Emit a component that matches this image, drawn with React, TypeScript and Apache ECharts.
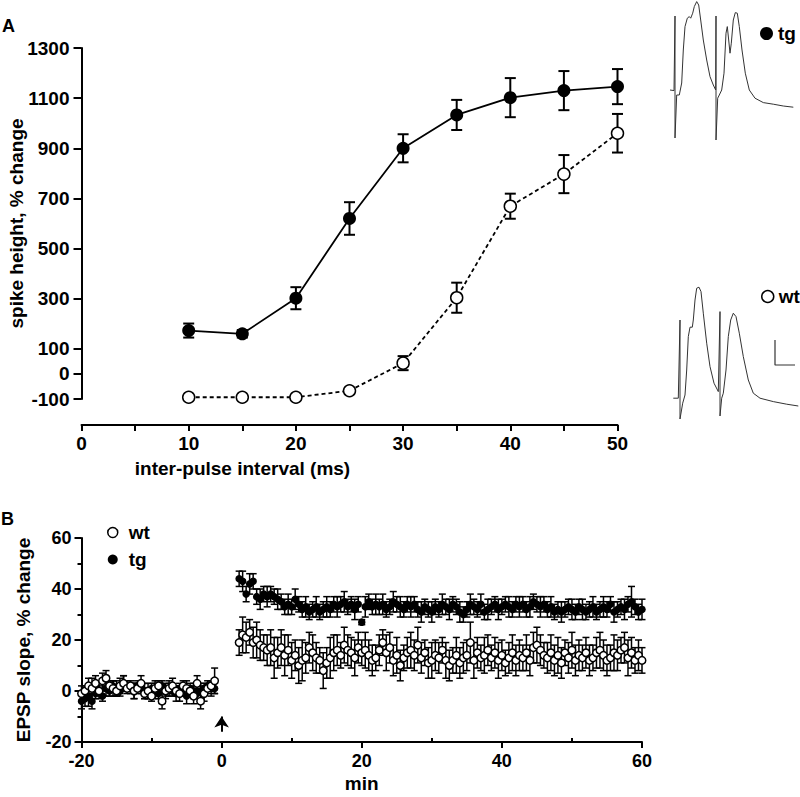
import React, { useEffect, useRef } from "react";
import * as echarts from "echarts";

// ---------- Panel A data ----------
const intervalsMs = [10, 15, 20, 25, 30, 35, 40, 45, 50];
const tgSpike = [173, 160, 302, 620, 900, 1033, 1102, 1130, 1146];
const tgSpikeErr = [28, 15, 44, 65, 56, 60, 78, 78, 70];
const wtSpike = [-93, -93, -93, -67, 43, 304, 669, 797, 960];
const wtSpikeErr = [6, 6, 6, 8, 28, 60, 50, 76, 77];
const spikeTicks = [-100, 0, 100, 300, 500, 700, 900, 1100, 1300];
const intervalLabels = [0, 10, 20, 30, 40, 50];

// ---------- Example traces (ms, mV) ----------
const tgTrace: number[][] = [
  [4.0, 2.5], [4.8, 2.47], [5.0, 6.2], [5.0, 0.1], [5.34, 2.25], [5.86, 2.25], [6.34, 2.85],
  [6.66, 4.5], [7.0, 5.67], [7.46, 6.09], [7.86, 6.17], [8.14, 6.09], [8.54, 6.34], [8.86, 6.67],
  [9.34, 6.92], [9.74, 6.75], [10.14, 6.0], [10.66, 5.0], [11.34, 4.0], [12.0, 3.17], [12.66, 2.75],
  [13.14, 2.5], [13.2, 6.2], [13.2, 0.0], [13.54, 2.09], [13.86, 2.25], [14.34, 2.5], [14.8, 3.34],
  [15.2, 5.34], [15.46, 5.67], [15.74, 5.0], [16.0, 4.34], [16.26, 4.84], [16.66, 6.0], [17.06, 6.37],
  [17.46, 6.34], [17.86, 5.67], [18.4, 4.5], [19.06, 3.34], [19.86, 2.5], [21.0, 2.09], [22.66, 1.87],
  [24.66, 1.79], [26.66, 1.7], [28.66, 1.64],
];
const wtTrace: number[][] = [
  [4.66, 0.59], [5.66, 0.59], [6.0, 4.5], [6.0, -0.45], [6.54, 0.34], [7.0, 0.75], [7.34, 2.0],
  [7.66, 3.67], [8.0, 4.14], [8.46, 4.14], [8.66, 4.5], [9.0, 5.5], [9.34, 6.09], [9.8, 6.14],
  [10.2, 5.92], [10.66, 4.84], [11.34, 3.34], [12.0, 2.17], [12.8, 1.34], [13.66, 0.92], [14.0, 4.92],
  [14.0, -0.3], [14.34, 0.59], [14.66, 0.84], [15.2, 2.0], [15.66, 3.67], [16.14, 4.5], [16.66, 4.84],
  [17.2, 4.67], [17.86, 3.84], [18.66, 2.67], [19.66, 1.5], [20.66, 0.84], [22.0, 0.59], [24.66, 0.42],
  [27.34, 0.29], [29.66, 0.2],
];
const scaleBar: number[][] = [[29, 2.25], [25, 2.25], [25, 3.5]];

// ---------- Panel B data (EPSP slope, % change) ----------
const baseStart = -20;
const postStart = 2.5;
const sampleStep = 0.5;
const wtBase = [-1, 0, 2, 1, 3, 0, 4, 5, 2, 1, 0, 2, 3, 1, 2, 0, 1, 3, -1, 0, -2, 1, 2, -4, 0, 1, 2, 0, -1, 2, 1, 0, -2, 3, -4, -1, 1, 2, 4];
const wtBaseErr = [3, 2, 3, 4, 3, 2, 3, 3, 2, 3, 2, 3, 3, 2, 2, 3, 2, 3, 2, 3, 2, 3, 2, 3, 2, 3, 3, 2, 3, 2, 3, 2, 3, 3, 3, 3, 2, 2, 5];
const tgBase = [-4, -3, -2, -4, -1, 0, -2, 1, 0, 2, 1, 0, 3, 2, 1, 0, 2, 1, 0, -1, 1, 0, -1, 2, 0, 1, 0, -1, 1, 0, -2, 1, 0, -1, 0, 1, 2, 1, 1];
const tgBaseErr = [3, 3, 4, 3, 2, 3, 2, 3, 2, 2, 3, 2, 3, 2, 2, 3, 2, 2, 3, 2, 2, 3, 2, 2, 3, 2, 2, 3, 2, 2, 3, 2, 3, 2, 3, 2, 2, 3, 2];
const tgPost = [
  44, 43, 38, 42, 43, 37, 36, 38, 37, 38,
  37, 36, 35, 33, 34, 33, 36, 34, 32, 33,
  31, 32, 33, 31, 32, 33, 32, 34, 33, 34,
  35, 33, 34, 32, 34, 27, 33, 35, 33, 34,
  33, 34, 32, 33, 35, 34, 33, 32, 34, 33,
  34, 32, 31, 33, 32, 31, 33, 32, 34, 33,
  32, 34, 33, 31, 30, 32, 34, 33, 32, 34,
  31, 32, 33, 34, 32, 33, 34, 33, 32, 34,
  33, 34, 32, 33, 35, 34, 33, 34, 32, 33,
  31, 32, 31, 32, 33, 32, 31, 33, 32, 31,
  32, 33, 31, 32, 33, 32, 34, 31, 32, 33,
  32, 34, 35, 33, 31, 32,
];
const tgPostErr = [
  3, 4, 3, 4, 3, 3, 4, 3, 4, 3,
  3, 4, 3, 3, 4, 3, 4, 3, 3, 4,
  3, 3, 4, 3, 3, 4, 3, 3, 4, 3,
  4, 3, 3, 4, 3, 1, 4, 3, 3, 4,
  3, 4, 3, 3, 4, 3, 4, 3, 3, 4,
  3, 3, 4, 3, 3, 4, 3, 3, 4, 3,
  4, 3, 3, 4, 3, 3, 4, 3, 3, 4,
  3, 4, 3, 3, 4, 3, 3, 4, 3, 3,
  4, 3, 3, 4, 3, 3, 4, 3, 3, 4,
  3, 3, 4, 3, 3, 4, 3, 3, 4, 3,
  3, 4, 3, 3, 4, 3, 3, 4, 3, 3,
  4, 3, 6, 3, 3, 4,
];
const wtPost = [
  19, 22, 21, 23, 19, 20, 18, 17, 16, 17,
  13, 15, 17, 14, 16, 12, 14, 10, 12, 13,
  17, 15, 13, 12, 8, 11, 13, 15, 16, 14,
  18, 16, 15, 13, 17, 15, 16, 14, 12, 13,
  16, 19, 15, 17, 12, 14, 10, 13, 15, 16,
  14, 18, 13, 15, 11, 12, 14, 13, 16, 12,
  10, 12, 14, 11, 13, 14, 19, 12, 15, 13,
  14, 16, 13, 15, 12, 14, 11, 13, 15, 12,
  14, 13, 15, 12, 17, 18, 16, 14, 13, 15,
  12, 14, 11, 15, 13, 16, 12, 14, 13, 15,
  12, 13, 15, 16, 14, 12, 13, 15, 14, 16,
  17, 13, 15, 12, 14, 12,
];
const wtPostErr = [
  5, 7, 6, 5, 6, 7, 6, 5, 6, 7,
  8, 6, 7, 8, 6, 7, 6, 7, 8, 6,
  6, 7, 6, 5, 7, 6, 8, 7, 6, 5,
  7, 6, 6, 7, 6, 5, 7, 6, 6, 5,
  6, 5, 7, 6, 6, 7, 6, 5, 6, 7,
  6, 7, 6, 5, 6, 7, 6, 6, 5, 7,
  6, 5, 7, 6, 6, 6, 8, 7, 6, 5,
  7, 6, 5, 6, 7, 6, 5, 6, 7, 6,
  6, 5, 7, 6, 6, 7, 6, 5, 6, 7,
  6, 7, 6, 5, 6, 7, 6, 6, 5, 6,
  6, 5, 6, 7, 6, 6, 5, 7, 6, 5,
  6, 7, 6, 5, 6, 5,
];
const minTicksB = [-10, 10, 30, 50];

const FONT = "'Liberation Sans', Arial, Helvetica, sans-serif";
const txt = (size: number) => ({ fontFamily: FONT, fontWeight: "bold" as const, fontSize: size, color: "#000" });
const plain = (v: number) => String(v);

function errRender(cap: number, lw: number) {
  return (_params: any, api: any) => {
    const x = api.value(0);
    const lo = api.value(1);
    const hi = api.value(2);
    const a = api.coord([x, hi]);
    const b = api.coord([x, lo]);
    const st = { stroke: "#000", lineWidth: lw };
    return {
      type: "group",
      children: [
        { type: "line", shape: { x1: a[0], y1: a[1], x2: b[0], y2: b[1] }, style: st },
        { type: "line", shape: { x1: a[0] - cap, y1: a[1], x2: a[0] + cap, y2: a[1] }, style: st },
        { type: "line", shape: { x1: b[0] - cap, y1: b[1], x2: b[0] + cap, y2: b[1] }, style: st },
      ],
    };
  };
}

function buildB(base: number[], baseErr: number[], post: number[], postErr: number[]) {
  const pts: number[][] = [];
  const errs: number[][] = [];
  base.forEach((v, i) => {
    const t = baseStart + i * sampleStep;
    pts.push([t, v]);
    errs.push([t, v - baseErr[i], v + baseErr[i]]);
  });
  post.forEach((v, i) => {
    const t = postStart + i * sampleStep;
    pts.push([t, v]);
    errs.push([t, v - postErr[i], v + postErr[i]]);
  });
  return { pts, errs };
}

export default function App() {
  const ref = useRef<HTMLDivElement>(null);
  useEffect(() => {
    document.body.style.margin = "0";
    if (!ref.current) return;
    const chart = echarts.init(ref.current, undefined, { renderer: "svg" });
    const tgB = buildB(tgBase, tgBaseErr, tgPost, tgPostErr);
    const wtB = buildB(wtBase, wtBaseErr, wtPost, wtPostErr);
    const axisLine = { show: true, onZero: false, lineStyle: { color: "#000", width: 2 } };
    const hidden = { show: false };
    const option: any = {
      animation: false,
      backgroundColor: "#fff",
      grid: [
        { left: 81.5, top: 48, width: 536, height: 351, outerBoundsMode: "none" },
        { left: 650, top: 0, width: 150, height: 150, outerBoundsMode: "none" },
        { left: 650, top: 270, width: 150, height: 150, outerBoundsMode: "none" },
        { left: 81.5, top: 538, width: 560.5, height: 204, outerBoundsMode: "none" },
      ],
      xAxis: [
        {
          gridIndex: 0, type: "value", position: "bottom", min: 0, max: 50, interval: 5, offset: 26,
          axisLine, splitLine: hidden,
          axisTick: { show: true, length: 6, lineStyle: { color: "#000", width: 2 } },
          axisLabel: { ...txt(19), margin: 9, customValues: intervalLabels, formatter: plain },
          name: "inter-pulse interval (ms)", nameLocation: "middle", nameGap: 34, nameMoveOverlap: false,
          nameTextStyle: { ...txt(19), padding: [0, 214, 0, 0] },
        },
        { gridIndex: 1, type: "value", min: 0, max: 30, show: false },
        { gridIndex: 2, type: "value", min: 0, max: 30, show: false },
        {
          gridIndex: 3, type: "value", position: "bottom", min: -20, max: 60, interval: 20,
          axisLine, splitLine: hidden,
          axisTick: { show: true, length: 6, lineStyle: { color: "#000", width: 2 } },
          axisLabel: { ...txt(18), margin: 10, formatter: plain },
          name: "min", nameLocation: "middle", nameGap: 32, nameMoveOverlap: false, nameTextStyle: txt(19),
        },
        {
          gridIndex: 3, type: "value", position: "bottom", min: -20, max: 60,
          axisLine: { show: false, onZero: false }, splitLine: hidden, axisLabel: hidden,
          axisTick: { show: true, inside: true, length: 4, customValues: minTicksB, lineStyle: { color: "#000", width: 2 } },
        },
      ],
      yAxis: [
        {
          gridIndex: 0, type: "value", position: "left", min: -100, max: 1300, interval: 100,
          axisLine, splitLine: hidden,
          axisTick: { show: true, length: 8, customValues: spikeTicks, lineStyle: { color: "#000", width: 2 } },
          axisLabel: { ...txt(19), margin: 12, customValues: spikeTicks, formatter: plain },
          name: "spike height, % change", nameLocation: "middle", nameGap: 56, nameRotate: 90,
          nameMoveOverlap: false, nameTextStyle: txt(19),
        },
        { gridIndex: 1, type: "value", min: -0.5, max: 7, show: false },
        { gridIndex: 2, type: "value", min: -0.5, max: 7, show: false },
        {
          gridIndex: 3, type: "value", position: "left", min: -20, max: 60, interval: 20,
          axisLine, splitLine: hidden,
          axisTick: { show: true, length: 7, lineStyle: { color: "#000", width: 2 } },
          minorTick: { show: true, splitNumber: 2, length: 4, lineStyle: { color: "#000", width: 2 } },
          axisLabel: { ...txt(18), margin: 10, formatter: plain },
          name: "EPSP slope, % change", nameLocation: "middle", nameGap: 49, nameRotate: 90,
          nameMoveOverlap: false, nameTextStyle: txt(19),
        },
      ],
      legend: [
        {
          data: [{ name: "tg", icon: "circle", itemStyle: { color: "#000", borderWidth: 0 } }],
          left: 760, top: 24, padding: 0, itemWidth: 13, itemHeight: 13, selectedMode: false,
          textStyle: { ...txt(19) },
        },
        {
          data: [{ name: "wt", icon: "circle", itemStyle: { color: "#fff", borderColor: "#000", borderWidth: 1.5 } }],
          left: 761, top: 287, padding: 0, itemWidth: 12, itemHeight: 12, selectedMode: false,
          textStyle: { ...txt(19) },
        },
        {
          orient: "vertical",
          data: [
            { name: "wt", icon: "circle", itemStyle: { color: "#fff", borderColor: "#000", borderWidth: 1.5 } },
            { name: "tg", icon: "circle", itemStyle: { color: "#000", borderWidth: 0 } },
          ],
          left: 107, top: 523, padding: 0, itemWidth: 10, itemHeight: 10, itemGap: 8, selectedMode: false,
          textStyle: { ...txt(19), padding: [0, 0, 0, 6] },
        },
      ],
      graphic: [
        { type: "text", left: 2, top: 17, style: { text: "A", font: `bold 18px ${FONT}`, fill: "#000" } },
        { type: "text", left: 1, top: 510, style: { text: "B", font: `bold 18px ${FONT}`, fill: "#000" } },
      ],
      series: [
        // Panel A
        {
          type: "custom", name: "tgErrA", xAxisIndex: 0, yAxisIndex: 0, z: 2, silent: true,
          encode: { x: 0, y: [1, 2] },
          data: intervalsMs.map((x, i) => [x, tgSpike[i] - tgSpikeErr[i], tgSpike[i] + tgSpikeErr[i]]),
          renderItem: errRender(5.5, 2),
        },
        {
          type: "custom", name: "wtErrA", xAxisIndex: 0, yAxisIndex: 0, z: 2, silent: true,
          encode: { x: 0, y: [1, 2] },
          data: intervalsMs.map((x, i) => [x, wtSpike[i] - wtSpikeErr[i], wtSpike[i] + wtSpikeErr[i]]),
          renderItem: errRender(5.5, 2),
        },
        {
          type: "line", name: "tg", xAxisIndex: 0, yAxisIndex: 0, z: 3,
          data: intervalsMs.map((x, i) => [x, tgSpike[i]]),
          symbol: "circle", symbolSize: 13,
          itemStyle: { color: "#000" },
          lineStyle: { color: "#000", width: 1.8 },
        },
        {
          type: "line", name: "wt", xAxisIndex: 0, yAxisIndex: 0, z: 3,
          data: intervalsMs.map((x, i) => [x, wtSpike[i]]),
          symbol: "circle", symbolSize: 12,
          itemStyle: { color: "#fff", borderColor: "#000", borderWidth: 1.5 },
          lineStyle: { color: "#000", width: 1.8, type: [4, 3] },
        },
        // Traces
        {
          type: "line", name: "tgTrace", xAxisIndex: 1, yAxisIndex: 1, data: tgTrace,
          showSymbol: false, silent: true, lineStyle: { color: "#333", width: 1 },
        },
        {
          type: "line", name: "wtTrace", xAxisIndex: 2, yAxisIndex: 2, data: wtTrace,
          showSymbol: false, silent: true, lineStyle: { color: "#333", width: 1 },
        },
        {
          type: "line", name: "scaleBar", xAxisIndex: 2, yAxisIndex: 2, data: scaleBar,
          showSymbol: false, silent: true, lineStyle: { color: "#333", width: 1.2 },
        },
        // Panel B
        {
          type: "custom", name: "tgErrB", xAxisIndex: 3, yAxisIndex: 3, z: 2, silent: true,
          encode: { x: 0, y: [1, 2] }, data: tgB.errs, renderItem: errRender(3.5, 1.5),
        },
        {
          type: "scatter", name: "tg", xAxisIndex: 3, yAxisIndex: 3, z: 3, data: tgB.pts,
          symbol: "circle", symbolSize: 7.5, itemStyle: { color: "#000", opacity: 1 },
        },
        {
          type: "custom", name: "wtErrB", xAxisIndex: 3, yAxisIndex: 3, z: 4, silent: true,
          encode: { x: 0, y: [1, 2] }, data: wtB.errs, renderItem: errRender(3.5, 1.5),
        },
        {
          type: "scatter", name: "wt", xAxisIndex: 3, yAxisIndex: 3, z: 5, data: wtB.pts,
          symbol: "circle", symbolSize: 7.5,
          itemStyle: { color: "#fff", borderColor: "#000", borderWidth: 1.5, opacity: 1 },
          markLine: {
            silent: true, symbol: ["none", "arrow"], symbolSize: 11,
            lineStyle: { color: "#000", width: 2, type: "solid" },
            label: { show: false },
            data: [[{ coord: [0, -16] }, { coord: [0, -10] }]],
          },
        },
      ],
    };
    chart.setOption(option);
    return () => chart.dispose();
  }, []);
  return <div ref={ref} style={{ width: 800, height: 797 }} />;
}
